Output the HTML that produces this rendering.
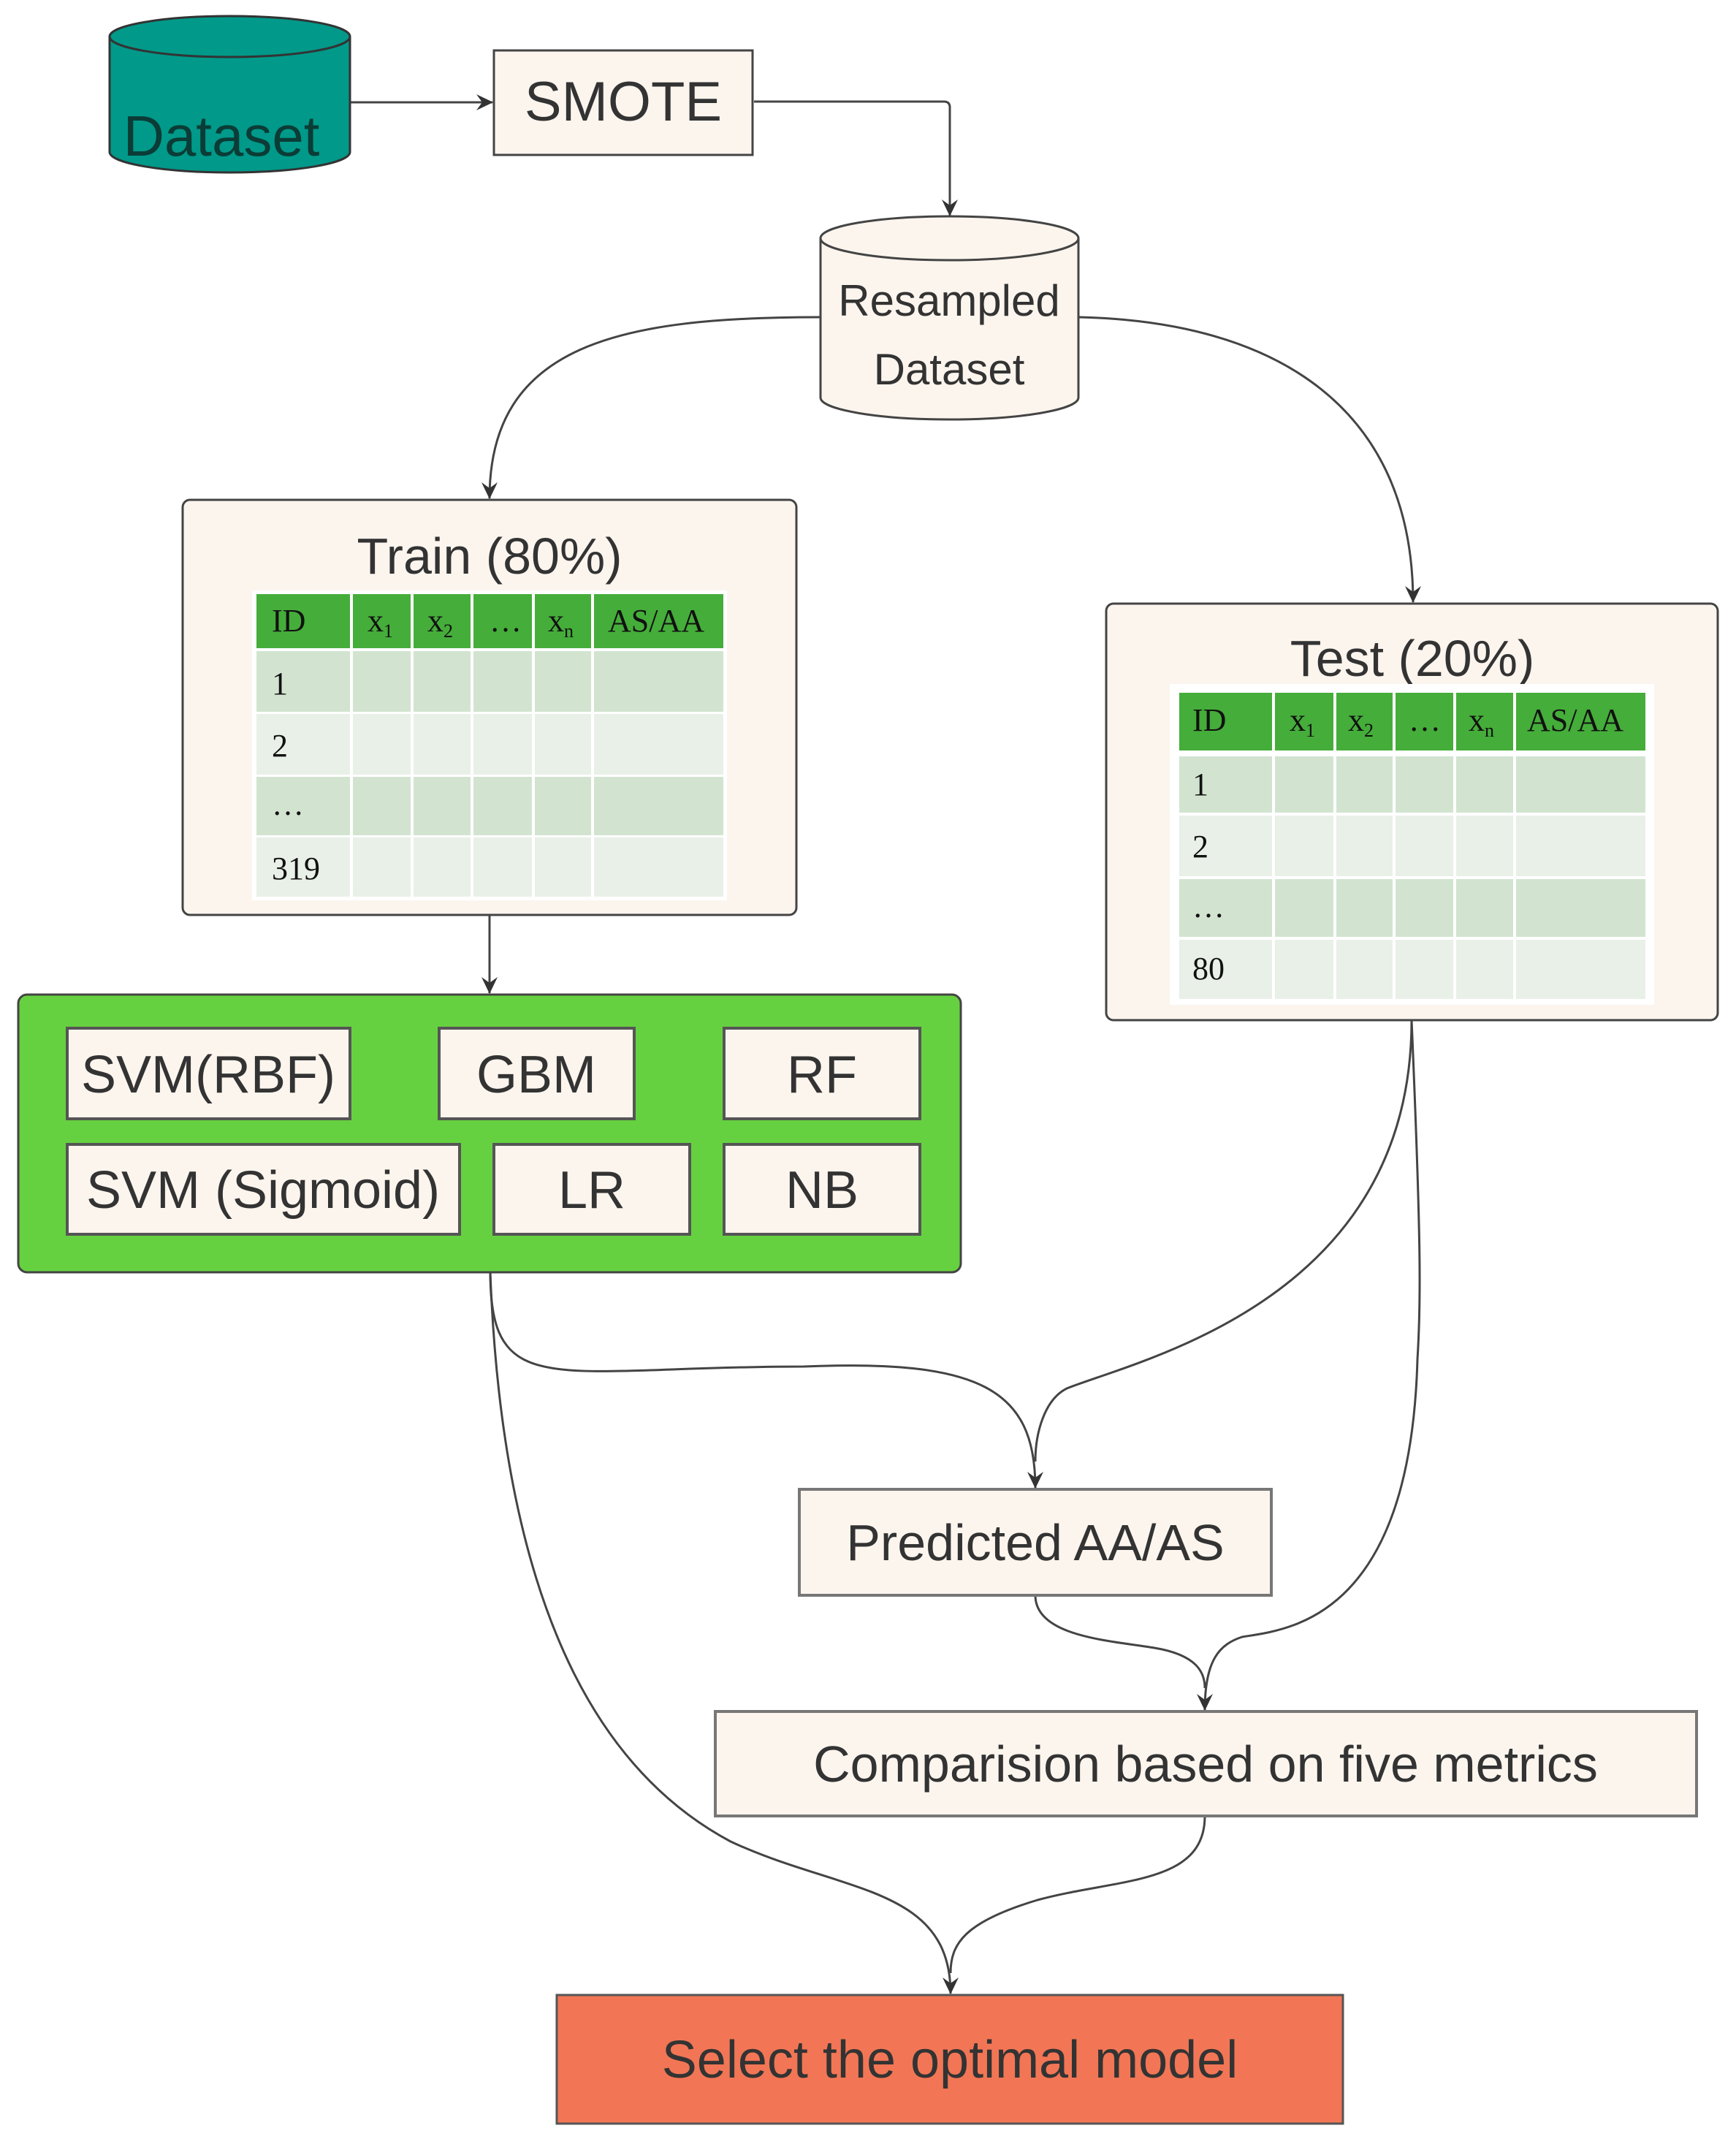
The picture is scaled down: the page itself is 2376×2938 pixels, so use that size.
<!DOCTYPE html>
<html><head><meta charset="utf-8"><style>
html,body{margin:0;padding:0;background:#fff}
svg{display:block}
text{font-family:"Liberation Sans",sans-serif;fill:#333}
.t{font-family:"Liberation Serif",serif;fill:#111;font-size:44px}
</style></head><body>
<svg width="2376" height="2938" viewBox="0 0 2376 2938" xmlns="http://www.w3.org/2000/svg">
<defs>
<marker id="a" markerWidth="24" markerHeight="24" refX="22" refY="12" orient="auto" markerUnits="userSpaceOnUse">
<path d="M0,1 L23,12 L0,23 L8,12 Z" fill="#333"/>
</marker>
</defs>
<g fill="none" stroke="#444" stroke-width="3">
<path d="M479,140 H674" marker-end="url(#a)"/>
<path d="M1032,139 H1292 Q1300,139 1300,147 V295" marker-end="url(#a)"/>
<path d="M1123,434 C850,434 670,470 670,682" marker-end="url(#a)"/>
<path d="M1476,434 C1750,440 1934,560 1934,824" marker-end="url(#a)"/>
<path d="M670,1252 V1359" marker-end="url(#a)"/>
<path d="M671,1741 C671,1920 760,1870 1100,1870 C1340,1860 1417,1900 1417,2036" marker-end="url(#a)"/>
<path d="M1932,1396 C1932,1780 1560,1860 1460,1900 C1430,1915 1417,1960 1417,2000"/>
<path d="M1932,1396 C1945,1700 1945,1780 1940,1860 C1930,2220 1760,2230 1700,2240 C1670,2250 1649,2270 1649,2340" marker-end="url(#a)"/>
<path d="M1417,2183 C1417,2240 1520,2245 1580,2255 C1640,2265 1649,2290 1649,2310"/>
<path d="M671,1741 C690,2250 850,2440 1000,2520 C1150,2590 1301,2580 1301,2728" marker-end="url(#a)"/>
<path d="M1649,2485 C1649,2580 1530,2570 1420,2600 C1320,2630 1301,2660 1301,2700"/>
</g>
<path d="M150,50 V208 A164.5,28 0 0 0 479,208 V50" fill="#00998a" stroke="#333" stroke-width="3"/>
<ellipse cx="314.5" cy="50" rx="164.5" ry="28" fill="#00998a" stroke="#333" stroke-width="3"/>
<text x="303" y="213" font-size="78" text-anchor="middle" style="fill:#0b3c36">Dataset</text>
<rect x="676" y="69" width="354" height="143" fill="#fcf5ee" stroke="#444" stroke-width="3"/>
<text x="853" y="165" font-size="76" text-anchor="middle">SMOTE</text>
<path d="M1123,326 V544 A176.5,30 0 0 0 1476,544 V326" fill="#fcf5ee" stroke="#444" stroke-width="3"/>
<ellipse cx="1299.5" cy="326" rx="176.5" ry="30" fill="#fcf5ee" stroke="#444" stroke-width="3"/>
<text x="1299" y="432" font-size="60" text-anchor="middle">Resampled</text>
<text x="1299" y="526" font-size="60" text-anchor="middle">Dataset</text>
<rect x="250" y="684" width="840" height="568" rx="10" fill="#fcf5ee" stroke="#444" stroke-width="3"/>
<text x="670" y="785" font-size="70" text-anchor="middle">Train (80%)</text>
<g>
<rect x="345" y="808" width="650" height="424" fill="#fff"/>
<g fill="#45ad3a">
<rect x="351" y="813" width="128" height="74"/><rect x="483" y="813" width="79" height="74"/><rect x="566" y="813" width="78" height="74"/><rect x="648" y="813" width="80" height="74"/><rect x="732" y="813" width="77" height="74"/><rect x="813" y="813" width="177" height="74"/>
</g>
<g fill="#d2e4d0">
<rect x="351" y="891" width="128" height="83"/><rect x="483" y="891" width="79" height="83"/><rect x="566" y="891" width="78" height="83"/><rect x="648" y="891" width="80" height="83"/><rect x="732" y="891" width="77" height="83"/><rect x="813" y="891" width="177" height="83"/>
<rect x="351" y="1063" width="128" height="80"/><rect x="483" y="1063" width="79" height="80"/><rect x="566" y="1063" width="78" height="80"/><rect x="648" y="1063" width="80" height="80"/><rect x="732" y="1063" width="77" height="80"/><rect x="813" y="1063" width="177" height="80"/>
</g>
<g fill="#e9f0e7">
<rect x="351" y="977" width="128" height="83"/><rect x="483" y="977" width="79" height="83"/><rect x="566" y="977" width="78" height="83"/><rect x="648" y="977" width="80" height="83"/><rect x="732" y="977" width="77" height="83"/><rect x="813" y="977" width="177" height="83"/>
<rect x="351" y="1146" width="128" height="81"/><rect x="483" y="1146" width="79" height="81"/><rect x="566" y="1146" width="78" height="81"/><rect x="648" y="1146" width="80" height="81"/><rect x="732" y="1146" width="77" height="81"/><rect x="813" y="1146" width="177" height="81"/>
</g>
<text class="t" x="372" y="864">ID</text>
<text class="t" x="503" y="864">x<tspan font-size="26" dy="8">1</tspan></text>
<text class="t" x="585" y="864">x<tspan font-size="26" dy="8">2</tspan></text>
<text class="t" x="670" y="864">…</text>
<text class="t" x="750" y="864">x<tspan font-size="26" dy="8">n</tspan></text>
<text class="t" x="832" y="864">AS/AA</text>
<text class="t" x="372" y="950">1</text>
<text class="t" x="372" y="1035">2</text>
<text class="t" x="372" y="1115">…</text>
<text class="t" x="372" y="1203">319</text>
</g>
<rect x="1514" y="826" width="837" height="570" rx="10" fill="#fcf5ee" stroke="#444" stroke-width="3"/>
<text x="1933" y="925" font-size="70" text-anchor="middle">Test (20%)</text>
<g>
<rect x="1601" y="936" width="663" height="439" fill="#fff"/>
<g fill="#45ad3a">
<rect x="1614" y="948" width="127" height="79"/><rect x="1745" y="948" width="80" height="79"/><rect x="1829" y="948" width="77" height="79"/><rect x="1910" y="948" width="79" height="79"/><rect x="1993" y="948" width="78" height="79"/><rect x="2075" y="948" width="177" height="79"/>
</g>
<g fill="#d2e4d0">
<rect x="1614" y="1035" width="127" height="77"/><rect x="1745" y="1035" width="80" height="77"/><rect x="1829" y="1035" width="77" height="77"/><rect x="1910" y="1035" width="79" height="77"/><rect x="1993" y="1035" width="78" height="77"/><rect x="2075" y="1035" width="177" height="77"/>
<rect x="1614" y="1203" width="127" height="79"/><rect x="1745" y="1203" width="80" height="79"/><rect x="1829" y="1203" width="77" height="79"/><rect x="1910" y="1203" width="79" height="79"/><rect x="1993" y="1203" width="78" height="79"/><rect x="2075" y="1203" width="177" height="79"/>
</g>
<g fill="#e9f0e7">
<rect x="1614" y="1116" width="127" height="83"/><rect x="1745" y="1116" width="80" height="83"/><rect x="1829" y="1116" width="77" height="83"/><rect x="1910" y="1116" width="79" height="83"/><rect x="1993" y="1116" width="78" height="83"/><rect x="2075" y="1116" width="177" height="83"/>
<rect x="1614" y="1286" width="127" height="81"/><rect x="1745" y="1286" width="80" height="81"/><rect x="1829" y="1286" width="77" height="81"/><rect x="1910" y="1286" width="79" height="81"/><rect x="1993" y="1286" width="78" height="81"/><rect x="2075" y="1286" width="177" height="81"/>
</g>
<text class="t" x="1632" y="1000">ID</text>
<text class="t" x="1765" y="1000">x<tspan font-size="26" dy="8">1</tspan></text>
<text class="t" x="1845" y="1000">x<tspan font-size="26" dy="8">2</tspan></text>
<text class="t" x="1928" y="1000">…</text>
<text class="t" x="2010" y="1000">x<tspan font-size="26" dy="8">n</tspan></text>
<text class="t" x="2090" y="1000">AS/AA</text>
<text class="t" x="1632" y="1088">1</text>
<text class="t" x="1632" y="1173">2</text>
<text class="t" x="1632" y="1255">…</text>
<text class="t" x="1632" y="1340">80</text>
</g>
<rect x="25" y="1361" width="1290" height="380" rx="12" fill="#66d140" stroke="#444" stroke-width="3"/>
<g fill="#fcf5ee" stroke="#555" stroke-width="4">
<rect x="92" y="1407" width="387" height="124"/>
<rect x="601" y="1407" width="267" height="124"/>
<rect x="991" y="1407" width="268" height="124"/>
<rect x="92" y="1566" width="537" height="123"/>
<rect x="676" y="1566" width="268" height="123"/>
<rect x="991" y="1566" width="268" height="123"/>
</g>
<g font-size="72" text-anchor="middle">
<text x="285" y="1495">SVM(RBF)</text>
<text x="734" y="1495">GBM</text>
<text x="1125" y="1495">RF</text>
<text x="360" y="1653">SVM (Sigmoid)</text>
<text x="810" y="1653">LR</text>
<text x="1125" y="1653">NB</text>
</g>
<rect x="1094" y="2038" width="646" height="145" fill="#fcf5ee" stroke="#777" stroke-width="4"/>
<text x="1417" y="2135" font-size="70" text-anchor="middle">Predicted AA/AS</text>
<rect x="979" y="2342" width="1343" height="143" fill="#fcf5ee" stroke="#777" stroke-width="4"/>
<text x="1650" y="2438" font-size="70" text-anchor="middle">Comparision based on five metrics</text>
<rect x="762" y="2730" width="1076" height="176" fill="#f27655" stroke="#555" stroke-width="3"/>
<text x="1300" y="2843" font-size="72" text-anchor="middle">Select the optimal model</text>
</svg>
</body></html>
